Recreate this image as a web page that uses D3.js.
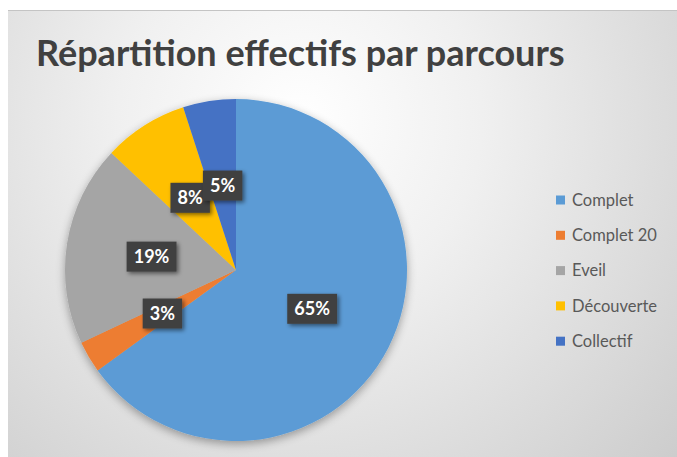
<!DOCTYPE html>
<html><head><meta charset="utf-8">
<script src="https://cdn.jsdelivr.net/npm/d3@7"></script>
<style>html,body{margin:0;padding:0;background:#fff;}svg{display:block;}</style>
</head><body>
<script>
const categories = ["Complet", "Complet 20", "Eveil", "Découverte", "Collectif"];
const values = [65, 3, 19, 8, 5];
const colors = ["#5B9BD5", "#ED7D31", "#A5A5A5", "#FFC000", "#4472C4"];
const title = "Répartition effectifs par parcours";

const W = 677, H = 457;
const svg = d3.select("body").append("svg").attr("width", W).attr("height", H);
const defs = svg.append("defs");
const rg = defs.append("radialGradient").attr("id", "bg")
  .attr("gradientUnits", "userSpaceOnUse")
  .attr("cx", 300).attr("cy", 120).attr("r", 520);
rg.append("stop").attr("offset", "0%").attr("stop-color", "#ffffff");
rg.append("stop").attr("offset", "35%").attr("stop-color", "#f0f0f0");
rg.append("stop").attr("offset", "100%").attr("stop-color", "#cbcbcb");

const sh = defs.append("filter").attr("id", "pieShadow").attr("x", "-20%").attr("y", "-20%").attr("width", "140%").attr("height", "140%");
sh.append("feGaussianBlur").attr("in", "SourceAlpha").attr("stdDeviation", 5).attr("result", "b");
sh.append("feOffset").attr("in", "b").attr("dx", 0).attr("dy", 3).attr("result", "o");
sh.append("feComponentTransfer").attr("in", "o").attr("result", "o2")
  .append("feFuncA").attr("type", "linear").attr("slope", 0.35);
const m = sh.append("feMerge");
m.append("feMergeNode").attr("in", "o2");
m.append("feMergeNode").attr("in", "SourceGraphic");

const ls = defs.append("filter").attr("id", "lblShadow").attr("x", "-30%").attr("y", "-30%").attr("width", "160%").attr("height", "160%");
ls.append("feGaussianBlur").attr("in", "SourceAlpha").attr("stdDeviation", 2).attr("result", "b");
ls.append("feOffset").attr("in", "b").attr("dx", 2).attr("dy", 2).attr("result", "o");
ls.append("feComponentTransfer").attr("in", "o").attr("result", "o2")
  .append("feFuncA").attr("type", "linear").attr("slope", 0.5);
const m2 = ls.append("feMerge");
m2.append("feMergeNode").attr("in", "o2");
m2.append("feMergeNode").attr("in", "SourceGraphic");

svg.append("rect").attr("x", 8).attr("y", 10).attr("width", W - 8).attr("height", H - 10)
  .attr("fill", "url(#bg)");
svg.append("line").attr("x1", 8).attr("x2", W).attr("y1", 10.5).attr("y2", 10.5)
  .attr("stroke", "#c4c4c4").attr("stroke-width", 1);

svg.append("text").attr("x", 36).attr("y", 66)
  .attr("font-family", "Lato, 'Open Sans', sans-serif").attr("font-size", 36).attr("font-weight", 700)
  .attr("fill", "#404040").text(title);

const cx = 236, cy = 270, R = 171;
const pie = d3.pie().sort(null).value(d => d)(values);
const arc = d3.arc().innerRadius(0).outerRadius(R);
const g = svg.append("g").attr("transform", `translate(${cx},${cy})`);
g.append("g").attr("filter", "url(#pieShadow)").selectAll("path").data(pie).join("path")
  .attr("d", arc).attr("fill", (d, i) => colors[i]);

const total = d3.sum(values);
const lg = g.append("g");
pie.forEach((d, i) => {
  const [x, y] = arc.centroid(d);
  const t = Math.round(d.data / total * 100) + "%";
  const grp = lg.append("g").attr("transform", `translate(${x},${y})`);
  const rect = grp.append("rect").attr("fill", "#404040").attr("filter", "url(#lblShadow)");
  const tx = grp.append("text").attr("text-anchor", "middle").attr("dy", "0.36em")
    .attr("font-family", "Lato, 'Open Sans', sans-serif").attr("font-size", 18).attr("font-weight", 700)
    .attr("fill", "#ffffff").text(t);
  const bb = tx.node().getBBox();
  rect.attr("x", -bb.width / 2 - 7).attr("y", -15).attr("width", bb.width + 14).attr("height", 30);
});

const leg = svg.append("g");
categories.forEach((c, i) => {
  const y = 200 + i * 35.3;
  leg.append("rect").attr("x", 556).attr("y", y - 4.5).attr("width", 9).attr("height", 9).attr("fill", colors[i]);
  leg.append("text").attr("x", 572).attr("y", y).attr("dy", "0.35em")
    .attr("font-family", "Lato, 'Open Sans', sans-serif").attr("font-size", 16.5)
    .attr("fill", "#595959").text(c);
});
</script>
</body></html>
